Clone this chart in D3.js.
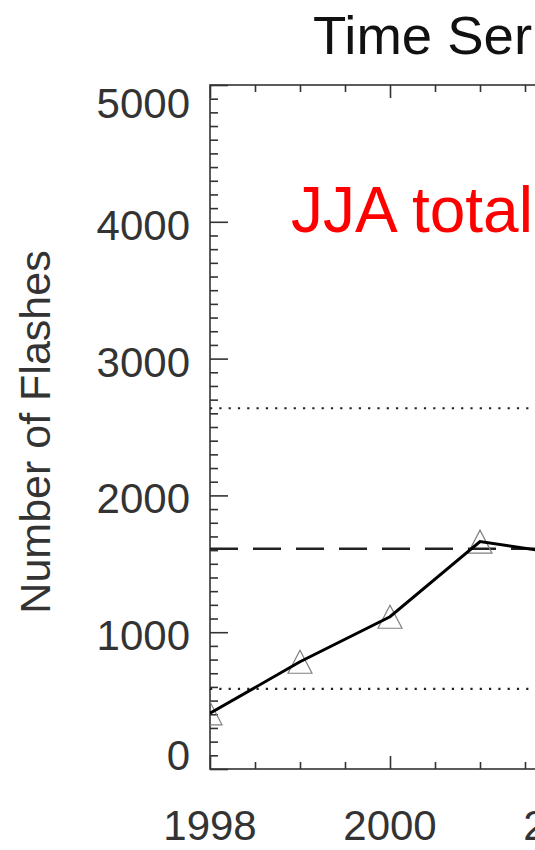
<!DOCTYPE html>
<html>
<head>
<meta charset="utf-8">
<script src="https://cdn.jsdelivr.net/npm/d3@7"></script>
<style>
  html, body { margin: 0; padding: 0; background: #fff; overflow: hidden; }
  svg { display: block; }
  text { font-family: "Liberation Sans", Arial, Helvetica, sans-serif; }
</style>
</head>
<body>
<svg id="chart" width="535" height="850"></svg>
<script>
// Summer (JJA) flash totals per year
const years = [1998, 1999, 2000, 2001, 2002];
const flashes = [407, 784, 1113, 1662, 1565];

// Reference levels: mean and mean ± one standard deviation
const meanLevel = [1610];
const spreadLevels = [585, 2637];

const yTicks = [0, 1000, 2000, 3000, 4000, 5000];
const xTicks = [1998, 2000, 2002];

const titleText = "Time Ser";
const yAxisTitle = "Number of Flashes";
const annotation = "JJA total";

const svg = d3.select("#chart");
const plot = { left: 210, top: 85, bottom: 769, right: 1110 };

const x = d3.scaleLinear().domain([1998, 2008]).range([plot.left, plot.right]);
const y = d3.scaleLinear().domain([0, 5000]).range([plot.bottom, plot.top]);

const axisColor = "#333";

// clip region for plotted marks
svg.append("defs").append("clipPath").attr("id", "plotClip")
  .append("rect")
  .attr("x", plot.left).attr("y", plot.top)
  .attr("width", plot.right - plot.left).attr("height", plot.bottom - plot.top);

// Title
svg.append("text")
  .attr("x", 313).attr("y", 54)
  .attr("font-size", 54.5).attr("fill", "#111")
  .text(titleText);

// Frame
svg.append("rect")
  .attr("x", plot.left).attr("y", plot.top)
  .attr("width", plot.right - plot.left).attr("height", plot.bottom - plot.top)
  .attr("fill", "none").attr("stroke", axisColor).attr("stroke-width", 1.6);

// Y axis ticks: major every 1000, minor every 100
const yMinor = d3.range(0, 5001, 100).filter(v => v % 1000 !== 0);
const yAxisMinor = d3.axisRight(y).tickValues(yMinor).tickSize(8).tickFormat("");
const yAxisMajor = d3.axisRight(y).tickValues(yTicks).tickSize(18).tickFormat("");
[yAxisMinor, yAxisMajor].forEach(ax => {
  const g = svg.append("g").attr("transform", `translate(${plot.left},0)`).call(ax);
  g.select(".domain").remove();
  g.selectAll("line").attr("stroke", axisColor).attr("stroke-width", 1.6);
});

// Y tick labels (end labels kept inside the frame's vertical extent)
svg.append("g").selectAll("text").data(yTicks).join("text")
  .attr("x", 190)
  .attr("y", d => {
    if (d === 5000) return plot.top + 33;
    if (d === 0) return plot.bottom + 1;
    return y(d) + 18;
  })
  .attr("text-anchor", "end")
  .attr("font-size", 42)
  .attr("fill", "#333")
  .text(d => d);

// X axis ticks, bottom (pointing up) and top (pointing down)
const xMinor = d3.range(1998, 2008.01, 0.5).filter(v => v % 2 !== 0);
const xMajor = d3.range(1998, 2008.01, 2);
[[xMinor, 7], [xMajor, 13]].forEach(([vals, len]) => {
  const gb = svg.append("g").attr("transform", `translate(0,${plot.bottom})`)
    .call(d3.axisTop(x).tickValues(vals).tickSize(len).tickFormat(""));
  gb.select(".domain").remove();
  gb.selectAll("line").attr("stroke", axisColor).attr("stroke-width", 1.6);
  const gt = svg.append("g").attr("transform", `translate(0,${plot.top})`)
    .call(d3.axisBottom(x).tickValues(vals).tickSize(len).tickFormat(""));
  gt.select(".domain").remove();
  gt.selectAll("line").attr("stroke", axisColor).attr("stroke-width", 1.6);
});

// X tick labels
svg.append("g").selectAll("text").data(xTicks).join("text")
  .attr("x", d => x(d)).attr("y", 840)
  .attr("text-anchor", "middle")
  .attr("font-size", 42)
  .attr("fill", "#333")
  .text(d => d);

// Y axis title
svg.append("text")
  .attr("transform", `translate(50,432) rotate(-90)`)
  .attr("text-anchor", "middle")
  .attr("font-size", 43)
  .attr("fill", "#333")
  .text(yAxisTitle);

const marks = svg.append("g").attr("clip-path", "url(#plotClip)");

// Mean (dashed) and ± std (dotted) reference lines
marks.selectAll("line.mean").data(meanLevel).join("line")
  .attr("class", "mean")
  .attr("x1", plot.left).attr("x2", plot.right)
  .attr("y1", d => y(d)).attr("y2", d => y(d))
  .attr("stroke", "#222").attr("stroke-width", 2.4)
  .attr("stroke-dasharray", "28 15");

marks.selectAll("line.spread").data(spreadLevels).join("line")
  .attr("class", "spread")
  .attr("x1", plot.left).attr("x2", plot.right)
  .attr("y1", d => y(d)).attr("y2", d => y(d))
  .attr("stroke", "#222").attr("stroke-width", 2.2)
  .attr("stroke-dasharray", "2.2 7.1");

// Open triangle markers
const triW = 24, triH = 23;
marks.selectAll("path.tri").data(years.map((yr, i) => [yr, flashes[i]])).join("path")
  .attr("class", "tri")
  .attr("d", d => {
    const cx = x(d[0]), cy = y(d[1]);
    return `M${cx},${cy - triH / 2}L${cx + triW / 2},${cy + triH / 2}L${cx - triW / 2},${cy + triH / 2}Z`;
  })
  .attr("fill", "none").attr("stroke", "#808080").attr("stroke-width", 1.2);

// Series line
const line = d3.line().x(d => x(d[0])).y(d => y(d[1]));
marks.append("path")
  .datum(years.map((yr, i) => [yr, flashes[i]]))
  .attr("d", line)
  .attr("fill", "none").attr("stroke", "#000").attr("stroke-width", 3)
  .attr("stroke-linejoin", "miter");

// Annotation
svg.append("text")
  .attr("x", 291).attr("y", 232)
  .attr("font-size", 64).attr("fill", "#ff0000")
  .text(annotation);
</script>
</body>
</html>
